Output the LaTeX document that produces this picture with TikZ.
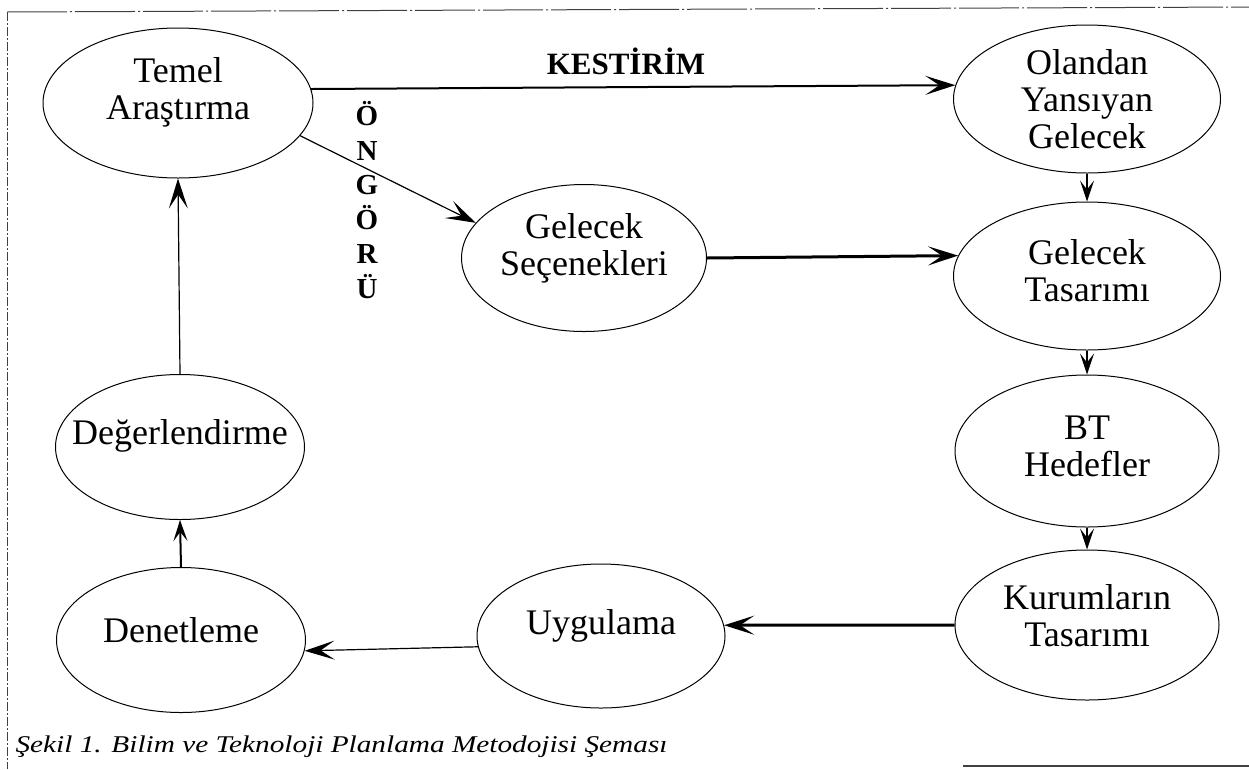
\documentclass[tikz,border=0pt]{standalone}
\usepackage{fontspec}
\setmainfont{Liberation Serif}
\usetikzlibrary{arrows.meta}
\usetikzlibrary{shapes}
\usetikzlibrary{calc}
\tikzstyle{oval} = [ellipse, draw, line width=1pt, inner sep=0pt]
\tikzstyle{txt} = [align=center, font=\fontsize{36}{37}\selectfont]
\tikzstyle{arr} = [-{Stealth[length=30pt,width=19pt,inset=14pt]}, line width=1.2pt]
\tikzstyle{arrs} = [-{Stealth[length=21pt,width=14pt,inset=9pt]}, line width=1.2pt]
\tikzstyle{frame} = [black!75, line width=1pt]

\begin{document}
\begin{tikzpicture}[x=1pt,y=-1pt]
	\useasboundingbox (0,0) rectangle (1249,769);
	% cerceve
	\draw[frame, dash pattern=on 60pt off 3pt on 2pt off 3pt] (7,12) -- (1249,7);
	\draw[frame, dash pattern=on 9pt off 2pt on 2pt off 2pt] (7,12) -- (7,769);
	\draw[frame, line width=1.5pt] (963,766) -- (1249,766);
	% elipsler
	\node[oval, minimum width=270, minimum height=150, label={[txt,yshift=11pt]center:Temel\\Araştırma}] (temel) at (178,103) {};
	\node[oval, minimum width=267, minimum height=148, label={[txt]center:Olandan\\Yansıyan\\Gelecek}] (olandan) at (1087,99) {};
	\node[oval, minimum width=245, minimum height=147, label={[txt,yshift=10pt]center:Gelecek\\Seçenekleri}] (secenek) at (584,258) {};
	\node[oval, minimum width=267, minimum height=148, label={[txt,yshift=5pt]center:Gelecek\\Tasarımı}] (gtasarim) at (1087,276) {};
	\node[oval, minimum width=264, minimum height=152, label={[txt,yshift=5pt]center:BT\\Hedefler}] (bt) at (1087,451) {};
	\node[oval, minimum width=264, minimum height=150, label={[txt,yshift=9pt]center:Kurumların\\Tasarımı}] (kurum) at (1087,625) {};
	\node[oval, minimum width=248, minimum height=144, label={[txt,yshift=10pt]center:Uygulama}] (uygulama) at (601,636) {};
	\node[oval, minimum width=249, minimum height=145, label={[txt,yshift=10pt]center:Denetleme}] (denetleme) at (181,640) {};
	\node[oval, minimum width=249, minimum height=145, label={[txt,yshift=11pt]center:Değerlendirme}] (deger) at (180,447) {};
	% yazilar
	\node[font=\fontsize{31}{33}\selectfont\bfseries] (kestirim) at (626,61) {KESTİRİM};
	\node[align=center, font=\fontsize{29}{34.6}\selectfont\bfseries] (ongoru) at (367,200) {Ö\\N\\G\\Ö\\R\\Ü};
	\node[anchor=base west, font=\fontsize{24}{26}\selectfont\itshape] (sekil) at (12,752) {\scalebox{1.22}[1]{Şekil 1. Bilim ve Teknoloji Planlama Metodojisi Şeması}};
	% oklar
	\draw[arr, line width=2pt] (temel.6) -- (olandan.174);
	\draw[arr] (temel.-15) -- (secenek.162);
	\draw[arr, line width=3pt] (secenek.east) -- (gtasarim.171);
	\draw[arrs] (olandan.south) -- (gtasarim.north);
	\draw[arrs] (gtasarim.south) -- (bt.north);
	\draw[arrs] (bt.south) -- (kurum.north);
	\draw[arr, line width=3pt] (kurum.west) -- (uygulama.5);
	\draw[arr] (uygulama.185) -- (denetleme.-5);
	\draw[arrs, line width=2pt] (denetleme.north) -- (deger.south);
	\draw[arr] (deger.north) -- (temel.south);
\end{tikzpicture}
\end{document}
